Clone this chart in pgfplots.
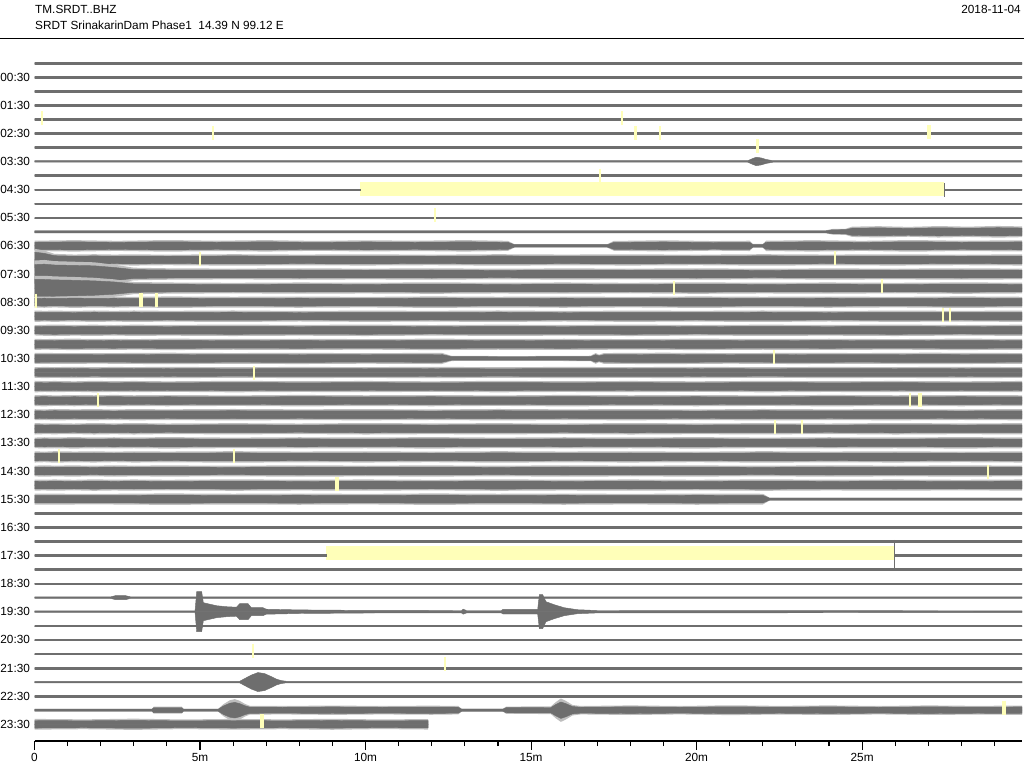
\documentclass[border=0pt]{standalone}
\usepackage{fontspec}
\setmainfont{Liberation Sans}
\usepackage{pgfplots}
\usepackage{pgfplotstable}
\pgfplotsset{compat=1.18}
\definecolor{tr}{RGB}{110,110,110}
\definecolor{trh}{RGB}{190,190,190}
\definecolor{yel}{RGB}{255,255,185}
\newcommand\fs{\fontsize{11.8pt}{13pt}\selectfont}

\newcommand\coreband[4]{%
 \addplot[fill=tr, draw=tr, line width=0.45pt] table[x=t, y expr={#1-#4*\thisrow{#3}/14.07}]{#2} -- cycle;
 \addplot[fill=tr, draw=tr, line width=0.45pt] table[x=t, y expr={#1+#4*\thisrow{#3}/14.07}]{#2} -- cycle;}
\newcommand\haloband[4]{%
 \addplot[fill=trh, draw=none] table[x=t, y expr={#1-#4*\thisrow{#3}/14.07}]{#2} -- cycle;
 \addplot[fill=trh, draw=none] table[x=t, y expr={#1+#4*\thisrow{#3}/14.07}]{#2} -- cycle;}
\newcommand\nband[3]{\haloband{#1}{#2}{#3}{1.17}\coreband{#1}{#2}{#3}{0.82}}
\newcommand\tband[3]{\coreband{#1}{#2}{#3}{1}}

% half-amplitudes in pixels, time in minutes
\pgfplotstableread{
t a
0 0
0 0.8
29.83 0.8
29.83 0
}\tThin

\pgfplotstableread{
t a
0 0
0 0.8
21.55 0.8
21.7 3.0
21.8 4.2
21.95 3.5
22.1 2.0
22.3 0.8
29.83 0.8
29.83 0
}\tSeven

\pgfplotstableread{
t a
0 0
0 0.8
9.83 0.8
9.83 0
}\tNineA
\pgfplotstableread{
t a
27.48 0
27.48 0.8
29.83 0.8
29.83 0
}\tNineB

\pgfplotstableread{
t a
0 0
0 1.2
23.9 1.2
24.1 2.4
24.5 2.6
24.7 4.4
25.5 4.8
26.4 4.2
27.3 4.9
28.2 4.4
29.1 5.0
29.83 4.6
29.83 0
}\tTwelve

\pgfplotstableread{
t a
0 0
0 4.4
1.2 4.9
2.5 4.3
4.0 5.0
5.5 4.4
7.0 4.9
8.5 4.2
10.0 4.8
11.5 4.4
13.0 4.9
14.3 4.3
14.5 1.4
17.3 1.4
17.5 4.2
19.0 4.8
20.5 4.1
21.6 4.4
21.7 1.6
22.0 1.6
22.1 4.4
23.5 4.9
25.0 4.3
26.5 5.0
28.0 4.4
29.83 4.8
29.83 0
}\tThirteen

\pgfplotstableread{
t    a14 a15  a16 a17 a18 a19 a20 a22 a23 a24 a25 a26 a27 a28 a29 a30
0    0   0    0   0   0   0   0   0   0   0   0   0   0   0   0   0
0    9.5 11.5 10.5 4.6 4.9 4.4 4.8 4.5 5.0 4.6 4.7 4.9 4.5 4.8 4.6 4.7
0.3  8.0 12.0 10.5 4.8 4.6 4.7 4.5 4.8 4.6 4.9 4.5 4.6 4.8 4.5 4.9 4.6
0.6  5.2 11.0 10.0 4.5 4.8 4.9 4.7 4.6 4.8 4.5 4.9 4.7 4.6 4.9 4.6 4.8
1.2  4.6 10.5 9.5 4.9 4.5 4.6 4.9 4.9 4.5 4.8 4.6 4.5 4.9 4.6 4.8 4.5
1.8  4.9 10.0 8.8 4.6 4.9 4.8 4.6 4.5 4.9 4.6 4.8 4.9 4.6 4.8 4.5 4.9
2.4  4.6 8.0  7.5 4.8 4.6 4.5 4.8 4.8 4.6 4.9 4.5 4.6 4.8 4.5 4.9 4.6
3.0  4.8 5.4  5.2 4.5 4.9 4.8 4.5 4.6 4.8 4.6 4.8 4.9 4.6 4.8 4.6 4.8
4    4.5 4.9  4.8 4.9 4.6 4.6 4.9 4.9 4.5 4.8 4.6 4.5 4.9 4.6 4.8 4.5
6    4.9 4.6  4.5 4.6 4.9 4.9 4.6 4.5 4.9 4.5 4.9 4.8 4.5 4.9 4.5 4.9
8    4.6 4.9  4.8 4.8 4.5 4.6 4.8 4.8 4.6 4.9 4.6 4.5 4.8 4.6 4.9 4.6
10   4.8 4.6  4.6 4.5 4.8 4.9 4.5 4.6 4.8 4.6 4.8 4.9 4.6 4.8 4.6 4.8
12   4.5 4.9  4.9 4.9 4.6 4.5 4.9 4.9 4.5 4.8 4.5 4.6 4.9 4.5 4.8 4.5
14   4.9 4.5  4.6 4.6 4.9 4.8 4.6 4.5 4.9 4.5 4.9 4.8 4.5 4.9 4.5 4.9
16   4.6 4.8  4.8 4.8 4.5 4.6 4.8 4.8 4.6 4.9 4.6 4.5 4.8 4.6 4.9 4.6
18   4.8 4.6  4.5 4.5 4.8 4.9 4.5 4.6 4.8 4.6 4.8 4.9 4.6 4.8 4.6 4.8
20   4.5 4.9  4.9 4.9 4.6 4.5 4.9 4.9 4.5 4.8 4.5 4.6 4.9 4.5 4.8 4.5
22   4.9 4.5  4.6 4.6 4.9 4.8 4.6 4.5 4.9 4.5 4.9 4.8 4.5 4.9 4.5 4.9
24   4.6 4.8  4.8 4.8 4.5 4.6 4.8 4.8 4.6 4.9 4.6 4.5 4.8 4.6 4.9 4.6
26   4.8 4.6  4.5 4.5 4.8 4.9 4.5 4.6 4.8 4.6 4.8 4.9 4.6 4.8 4.6 4.8
28   4.5 4.9  4.9 4.9 4.6 4.5 4.9 4.9 4.5 4.8 4.5 4.6 4.9 4.5 4.8 4.5
29.83 4.8 4.6 4.6 4.6 4.8 4.8 4.6 4.6 4.8 4.6 4.8 4.8 4.6 4.8 4.6 4.8
29.83 0  0    0   0   0   0   0   0   0   0   0   0   0   0   0   0
}\tNoisy

\pgfplotstableread{
t a
0 0
0 4.7
2 4.5
4 4.9
6 4.6
8 4.8
10 4.5
12.3 4.8
12.6 2.2
14.5 2.0
16.8 2.3
16.95 4.6
17.05 3.2
17.2 4.6
19 4.9
21 4.5
23 4.8
25 4.6
27 4.9
29.83 4.6
29.83 0
}\tTwentyOne

\pgfplotstableread{
t a
0 0
0 4.7
2 4.5
4 4.9
6 4.6
8 4.8
10 4.5
12 4.9
14 4.6
16 4.8
18 4.5
20 4.8
22.0 4.6
22.2 1.3
29.83 1.3
29.83 0
}\tThirtyOne

\pgfplotstableread{
t a
0 0
0 0.8
8.81 0.8
8.81 0
}\tThirtyFiveA
\pgfplotstableread{
t a
25.99 0
25.99 0.8
29.83 0.8
29.83 0
}\tThirtyFiveB

\pgfplotstableread{
t a
0 0
0 0.8
2.3 0.8
2.45 2.0
2.75 2.0
2.9 0.8
29.83 0.8
29.83 0
}\tThirtyEight

\pgfplotstableread{
t a
0 0
0 0.8
4.85 0.8
4.9 20
5.05 20
5.1 9
5.3 7.5
5.5 6
5.8 5
6.1 4.5
6.2 8
6.45 8
6.55 4
6.9 4
7.0 2.5
8.0 1.8
10.0 1.3
12.9 1.2
12.95 2.5
13.05 1.2
14.1 1.2
14.15 2.3
15.2 2.3
15.25 17
15.35 17
15.45 10
15.7 7
16.0 4
16.4 2
17.0 1.2
29.83 0.9
29.83 0
}\tThirtyNine

\pgfplotstableread{
t a
0 0
0 0.8
6.2 0.8
6.35 3.5
6.55 7
6.75 9.5
6.95 8.5
7.15 5.5
7.3 3
7.45 1.5
7.6 0.8
29.83 0.8
29.83 0
}\tFortyFour

\pgfplotstableread{
t a
0 0
0 1.2
3.55 1.2
3.6 3.0
4.45 3.0
4.5 1.2
5.55 1.2
5.7 5
5.9 8.5
6.05 9.5
6.2 8
6.35 5.5
6.5 3.8
7.5 3.6
9.0 4.0
10.5 3.6
12.0 3.9
12.8 3.6
12.9 1.3
14.15 1.3
14.25 3.1
15.6 3.3
15.75 7
15.9 10
16.05 8
16.25 4.5
16.5 3.6
18 4.1
19.5 3.6
21 4.2
22.5 3.7
24 4.1
25.5 3.6
27 4.1
28.5 3.7
29.83 4.0
29.83 0
}\tFortySix

\pgfplotstableread{
t a
0 0
0 4.6
1.5 4.2
3 4.8
4.5 4.1
6 4.6
7.5 4.2
9 4.7
10.5 4.1
11.89 4.5
11.89 0
}\tFortySeven

% small yellow marks: time (min), trace position
\pgfplotstableread{
t y
0.23 3.94
5.39 4.98
17.74 3.94
18.16 5.0
18.90 5.0
21.84 5.93
17.08 8.0
12.10 10.84
5.00 13.94
3.69 16.88
24.18 13.88
19.32 15.96
25.60 15.88
27.45 17.91
27.66 17.91
22.34 20.93
6.63 22.0
1.92 23.95
26.45 23.95
22.37 25.87
23.19 25.87
0.74 27.9
6.03 27.9
28.81 29.07
6.60 41.76
12.40 42.71
0.05 16.9
}\tYelThin
\pgfplotstableread{
t y
27.02 4.94
3.22 16.88
26.75 23.95
9.14 29.92
29.28 45.81
6.87 46.77
}\tYelWide

\begin{document}
\begin{tikzpicture}
\path[use as bounding box] (0pt,0pt) rectangle (1024pt,-768pt);
\node[anchor=base west, inner sep=0pt, font=\fs] at (35pt,-14pt) {TM.SRDT..BHZ};
\node[anchor=base west, inner sep=0pt, font=\fs] at (35pt,-29.3pt) {SRDT SrinakarinDam Phase1\ \ 14.39 N 99.12 E};
\node[anchor=base east, inner sep=0pt, font=\fs] at (1021pt,-13.5pt) {2018-11-04};
\draw[line width=1.2pt] (0pt,-38.3pt) -- (1024pt,-38.3pt);
\begin{axis}[
  at={(34.5pt,-741pt)}, anchor=south west,
  width=987.5pt, height=701pt, scale only axis,
  xmin=0, xmax=29.83, ymin=-1.63, ymax=48.19, y dir=reverse,
  axis x line*=bottom, axis y line*=left,
  y axis line style={draw=none},
  x axis line style={line width=1.2pt},
  tick align=outside,
  major tick length=9pt, minor tick length=5pt,
  xtick={0,5,10,15,20,25},
  xticklabels={0,5m,10m,15m,20m,25m},
  minor xtick={0,1,...,29},
  x tick style={line width=1.1pt, black},
  ytick={1,3,...,47},
  yticklabels={00:30,01:30,02:30,03:30,04:30,05:30,06:30,07:30,08:30,09:30,10:30,11:30,12:30,13:30,14:30,15:30,16:30,17:30,18:30,19:30,20:30,21:30,22:30,23:30},
  y tick style={draw=none},
  tick label style={font=\fs},
  yticklabel style={xshift=8pt},
  clip=true,
]
% data gaps (yellow bars)
\addplot[fill=yel, draw=none] coordinates {(9.83,8.49) (27.48,8.49) (27.48,9.45) (9.83,9.45)} -- cycle;
\addplot[fill=yel, draw=none] coordinates {(8.81,34.33) (25.99,34.33) (25.99,35.32) (8.81,35.32)} -- cycle;

\pgfplotsinvokeforeach{0,1,2,3,4,5,6,8,10,11,32,33,34,36,37,40,41,42,43,45}{\tband{#1}{\tThin}{a}}
\tband{7}{\tSeven}{a}
\tband{9}{\tNineA}{a}
\tband{9}{\tNineB}{a}
\addplot[tr, line width=1.2pt] coordinates {(27.48,8.53) (27.48,9.52)};
\nband{12}{\tTwelve}{a}
\nband{13}{\tThirteen}{a}
\pgfplotsinvokeforeach{14,15,16,17,18,19,20,22,23,24,25,26,27,28,29,30}{\nband{#1}{\tNoisy}{a#1}}
\nband{21}{\tTwentyOne}{a}
\nband{31}{\tThirtyOne}{a}
\tband{35}{\tThirtyFiveA}{a}
\tband{35}{\tThirtyFiveB}{a}
\addplot[tr, line width=1.2pt] coordinates {(25.99,33.9) (25.99,36.03)};
\tband{38}{\tThirtyEight}{a}
\tband{39}{\tThirtyNine}{a}
\tband{44}{\tFortyFour}{a}
\nband{46}{\tFortySix}{a}
\nband{47}{\tFortySeven}{a}

% small yellow marks
\addplot[only marks, mark=|, mark size=7pt, color=yel, mark options={line width=2.5pt}] table[x=t, y=y]{\tYelThin};
\addplot[only marks, mark=|, mark size=7pt, color=yel, mark options={line width=4.5pt}] table[x=t, y=y]{\tYelWide};
\end{axis}
\end{tikzpicture}
\end{document}
